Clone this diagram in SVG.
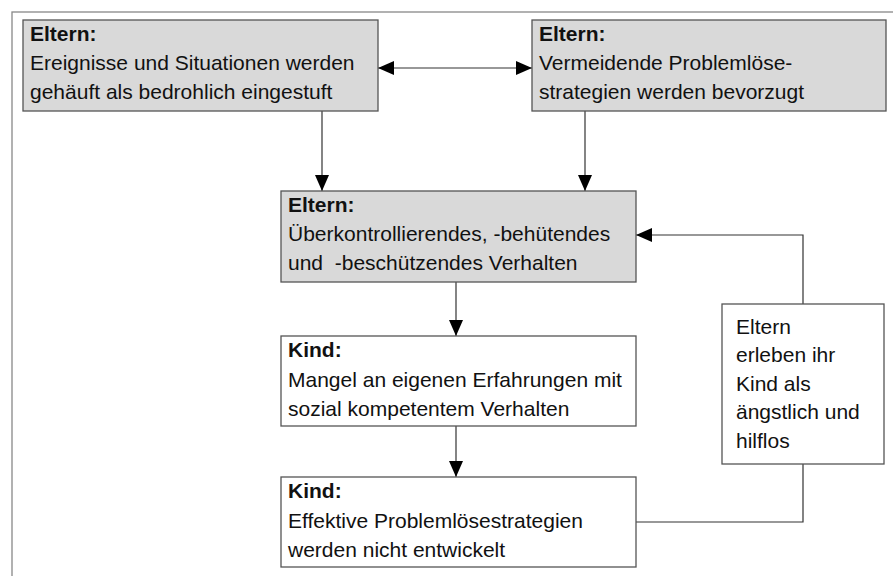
<svg xmlns="http://www.w3.org/2000/svg" width="893" height="576" viewBox="0 0 893 576">
  <style>
    .frame { fill: #ffffff; stroke: #888888; stroke-width: 1.3; }
    .gray { fill: #d9d9d9; stroke: #555555; stroke-width: 1.3; }
    .white { fill: #ffffff; stroke: #555555; stroke-width: 1.3; }
    text { font-family: "Liberation Sans", Arial, Helvetica, sans-serif; font-size: 21px; fill: #111111; white-space: pre; }
    .b { font-weight: bold; }
    .conn { fill: none; stroke: #333333; stroke-width: 1.2; }
  </style>
  <defs>
    <marker id="arr" viewBox="0 0 16 14" markerWidth="16" markerHeight="14" refX="16" refY="7" orient="auto-start-reverse" markerUnits="userSpaceOnUse">
      <path d="M0,0 L16,7 L0,14 z" fill="#000000"/>
    </marker>
  </defs>

  <rect class="frame" x="12" y="12" width="900" height="600"/>

  <g id="connectors">
    <line class="conn" x1="378" y1="68" x2="532" y2="68" marker-start="url(#arr)" marker-end="url(#arr)"/>
    <line class="conn" x1="322" y1="111" x2="322" y2="191" marker-end="url(#arr)"/>
    <line class="conn" x1="585" y1="111" x2="585" y2="191" marker-end="url(#arr)"/>
    <line class="conn" x1="456" y1="282" x2="456" y2="336" marker-end="url(#arr)"/>
    <line class="conn" x1="456" y1="426" x2="456" y2="477" marker-end="url(#arr)"/>
    <polyline class="conn" points="636,522 803,522 803,464"/>
    <polyline class="conn" points="803,304 803,235 636,235" marker-end="url(#arr)"/>
  </g>

  <g id="node1">
    <rect class="gray" x="23" y="20" width="355" height="91"/>
    <text class="b" x="30" y="41">Eltern:</text>
    <text x="30" y="70">Ereignisse und Situationen werden</text>
    <text x="30" y="99">gehäuft als bedrohlich eingestuft</text>
  </g>

  <g id="node2">
    <rect class="gray" x="532" y="20" width="354" height="91"/>
    <text class="b" x="539" y="41">Eltern:</text>
    <text x="539" y="70">Vermeidende Problemlöse-</text>
    <text x="539" y="99">strategien werden bevorzugt</text>
  </g>

  <g id="node3">
    <rect class="gray" x="281" y="191" width="355" height="91"/>
    <text class="b" x="288" y="212">Eltern:</text>
    <text x="288" y="241">Überkontrollierendes, -behütendes</text>
    <text x="288" y="270">und  -beschützendes Verhalten</text>
  </g>

  <g id="node4">
    <rect class="white" x="281" y="336" width="355" height="90"/>
    <text class="b" x="288" y="357">Kind:</text>
    <text x="288" y="387">Mangel an eigenen Erfahrungen mit</text>
    <text x="288" y="416">sozial kompetentem Verhalten</text>
  </g>

  <g id="node5">
    <rect class="white" x="281" y="477" width="355" height="90"/>
    <text class="b" x="288" y="498">Kind:</text>
    <text x="288" y="528">Effektive Problemlösestrategien</text>
    <text x="288" y="557">werden nicht entwickelt</text>
  </g>

  <g id="node6">
    <rect class="white" x="722" y="304" width="162" height="160"/>
    <text x="736" y="334">Eltern</text>
    <text x="736" y="362">erleben ihr</text>
    <text x="736" y="391">Kind als</text>
    <text x="736" y="419">ängstlich und</text>
    <text x="736" y="448">hilflos</text>
  </g>
</svg>
